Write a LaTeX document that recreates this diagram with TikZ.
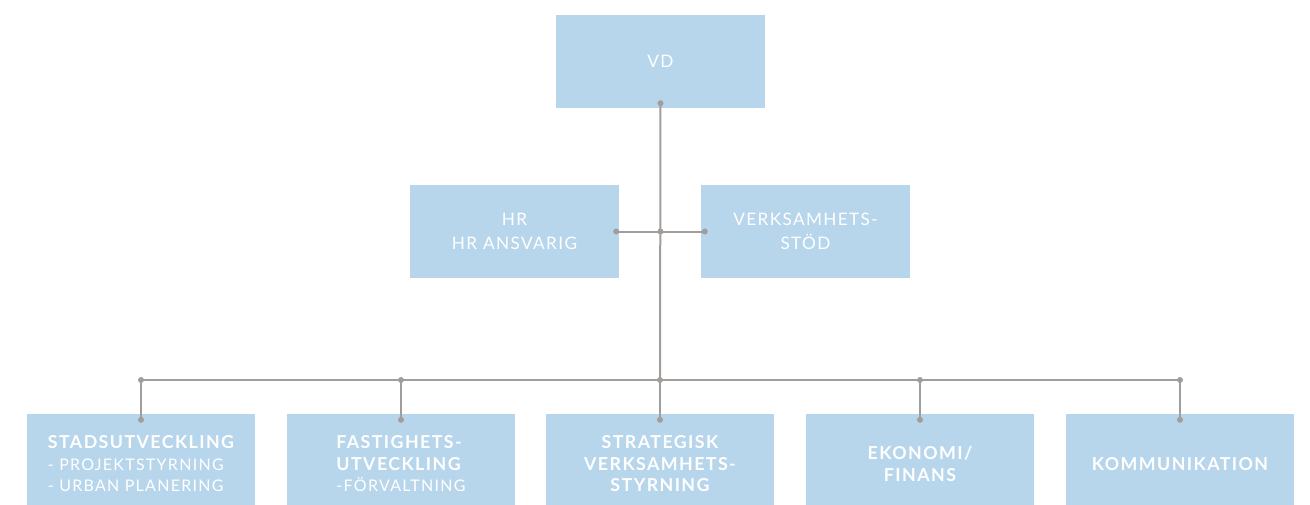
\documentclass[tikz,border=0pt]{standalone}
\usepackage{fontspec}
\setmainfont{Lato}
\usetikzlibrary{positioning, calc}
\definecolor{orgBlue}{HTML}{B7D6EC}
\definecolor{orgLine}{HTML}{A09D9A}
\tikzset{
  boxTop/.style={rectangle, fill=orgBlue, text=white, align=center,
                 minimum width=209pt, minimum height=93pt, inner sep=0pt,
                 font=\fontsize{17.2}{24}\selectfont\addfontfeatures{LetterSpace=8}},
  boxLow/.style={rectangle, fill=orgBlue, text=white, align=center,
                 minimum width=228pt, minimum height=100pt, inner sep=0pt,
                 font=\fontsize{17.8}{21.5}\selectfont\bfseries\addfontfeatures{LetterSpace=8}},
  linkL/.style={orgLine, line width=2pt},
  dotL/.style={circle, fill=orgLine, inner sep=0pt, minimum size=6pt},
}
\newcommand{\subtxt}[1]{{\mdseries\fontsize{16}{21.5}\selectfont #1}}
\begin{document}
\begin{tikzpicture}[x=1pt, y=-1pt]
  \useasboundingbox (0,0) rectangle (1310,504);
  % top level
  \node[boxTop] (vd) at (660.5,61.5) {VD};
  \node[boxTop] (hr) at (514.5,231.5) {HR\\HR ANSVARIG};
  \node[boxTop] (vstod) at (805.5,231.5) {VERKSAMHETS-\\STÖD};
  % departments
  \node[boxLow, align=left] (stad) at (141,464)
    {STADSUTVECKLING\\\subtxt{- PROJEKTSTYRNING}\\\subtxt{- URBAN PLANERING}};
  \node[boxLow, align=left] (fast) at (401,464)
    {FASTIGHETS-\\UTVECKLING\\\subtxt{-FÖRVALTNING}};
  \node[boxLow] (strat) at (660,464) {STRATEGISK\\VERKSAMHETS-\\STYRNING};
  \node[boxLow] (ekon) at (920,464) {EKONOMI/\\FINANS};
  \node[boxLow] (komm) at (1180,464) {KOMMUNIKATION};
  % connectors
  \coordinate (vdDot) at ([yshift=5pt]vd.south);
  \coordinate (hrDot) at ([xshift=-3pt]hr.east);
  \coordinate (vsDot) at ([xshift=4pt]vstod.west);
  \coordinate (midDot) at (vdDot |- hrDot);
  \coordinate (busC) at (660,380);
  \draw[linkL] (vdDot) -- (busC);
  \draw[linkL] (hrDot) -- (vsDot);
  \foreach \d in {vdDot, hrDot, vsDot, midDot}
    \node[dotL] at (\d) {};
  \draw[linkL] (busC -| stad) -- (busC -| komm);
  \foreach \n in {stad, fast, strat, ekon, komm} {
    \coordinate (\n Top) at ([yshift=-6pt]\n.north);
    \draw[linkL] (busC -| \n) -- (\n Top);
    \node[dotL] at (busC -| \n) {};
    \node[dotL] at (\n Top) {};
  }
\end{tikzpicture}
\end{document}
